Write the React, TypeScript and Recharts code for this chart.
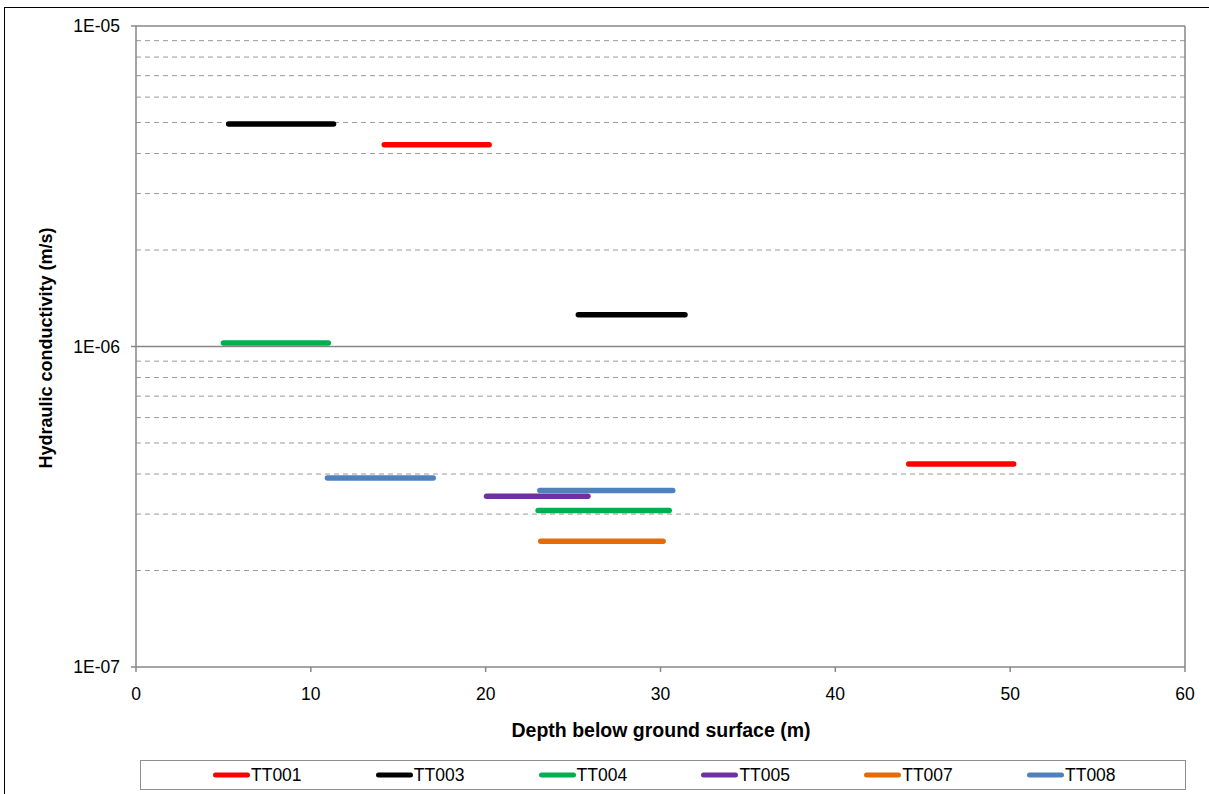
import React from 'react';
import { LineChart, Line, XAxis, YAxis, ReferenceLine } from 'recharts';

// Series names and colours
const SERIES = ['TT001', 'TT003', 'TT004', 'TT005', 'TT007', 'TT008'];
const COLORS = ['#FF0000', '#000000', '#00B050', '#7030A0', '#E36C09', '#4F81BD'];

// Test intervals: depth from / depth to (m) and hydraulic conductivity (m/s)
const TT001 = [
  { from: 14.2, to: 20.2, k: 4.26e-6 },
  { from: 44.2, to: 50.2, k: 4.3e-7 },
];
const TT003 = [
  { from: 5.3, to: 11.3, k: 4.95e-6 },
  { from: 25.3, to: 31.4, k: 1.257e-6 },
];
const TT004 = [
  { from: 5.0, to: 11.0, k: 1.026e-6 },
  { from: 23.0, to: 30.5, k: 3.08e-7 },
];
const TT005 = [{ from: 20.05, to: 25.85, k: 3.41e-7 }];
const TT007 = [{ from: 23.15, to: 30.15, k: 2.47e-7 }];
const TT008 = [
  { from: 10.95, to: 17.0, k: 3.89e-7 },
  { from: 23.1, to: 30.7, k: 3.556e-7 },
];
const SEGMENTS = [TT001, TT003, TT004, TT005, TT007, TT008];

// Axis ticks
const X_TICKS = [0, 10, 20, 30, 40, 50, 60];
const Y_TICKS = [1e-7, 1e-6, 1e-5];
const MINOR_GRID = [2e-7, 3e-7, 4e-7, 5e-7, 6e-7, 7e-7, 8e-7, 9e-7, 2e-6, 3e-6, 4e-6, 5e-6, 6e-6, 7e-6, 8e-6, 9e-6];

const FONT = 'Arial, "Liberation Sans", sans-serif';
const AXIS_GRAY = '#878787';

const fmtY = (v: number) => {
  const e = Math.round(Math.log10(v));
  const abs = Math.abs(e);
  return `1E${e < 0 ? '-' : '+'}${abs < 10 ? '0' : ''}${abs}`;
};

export default function App() {
  return (
    <div style={{ position: 'absolute', left: 0, top: 0, width: 1209, height: 794, overflow: 'hidden', background: '#fff', fontFamily: FONT }}>
      <div style={{ position: 'absolute', left: 4, top: 7, width: 1300, height: 900, border: '1.5px solid #000', boxSizing: 'border-box' }} />
      <div style={{ position: 'absolute', left: 0, top: 0 }}>
        <LineChart width={1209} height={740} margin={{ top: 26, right: 24, left: 56, bottom: 0 }}>
          <XAxis
            type="number"
            dataKey="x"
            domain={[0, 60]}
            ticks={X_TICKS}
            allowDataOverflow
            height={73}
            tickSize={5}
            tickMargin={16}
            stroke={AXIS_GRAY}
            strokeWidth={1.5}
            tick={{ fill: '#000', fontSize: 17.5, fontFamily: FONT }}
          />
          <YAxis
            type="number"
            dataKey="y"
            scale="log"
            domain={[1e-7, 1e-5]}
            ticks={Y_TICKS}
            allowDataOverflow
            width={80}
            tickSize={5}
            tickMargin={11}
            tickFormatter={fmtY}
            stroke={AXIS_GRAY}
            strokeWidth={1.5}
            tick={{ fill: '#000', fontSize: 17.5, fontFamily: FONT }}
          />
          {MINOR_GRID.map((v) => (
            <ReferenceLine key={'g' + v} y={v} stroke="#9A9A9A" strokeWidth={1} strokeDasharray="5 4" />
          ))}
          <ReferenceLine y={1e-6} stroke={AXIS_GRAY} strokeWidth={1.5} />
          <ReferenceLine y={1e-5} stroke={AXIS_GRAY} strokeWidth={1.5} />
          <ReferenceLine x={60} stroke={AXIS_GRAY} strokeWidth={1.5} />
          {SEGMENTS.map((segs, si) =>
            segs.map((s, j) => (
              <Line
                key={SERIES[si] + '-' + j}
                data={[
                  { x: s.from, y: s.k },
                  { x: s.to, y: s.k },
                ]}
                dataKey="y"
                type="linear"
                stroke={COLORS[si]}
                strokeWidth={5.5}
                strokeLinecap="round"
                dot={false}
                activeDot={false}
                legendType="none"
                isAnimationActive={false}
              />
            ))
          )}
        </LineChart>
      </div>
      <div style={{ position: 'absolute', left: 661, top: 730, transform: 'translate(-50%, -50%)', fontWeight: 'bold', fontSize: 19.5, whiteSpace: 'nowrap' }}>
        Depth below ground surface (m)
      </div>
      <div style={{ position: 'absolute', left: 46, top: 348, transform: 'translate(-50%, -50%) rotate(-90deg)', fontWeight: 'bold', fontSize: 18, whiteSpace: 'nowrap' }}>
        Hydraulic conductivity (m/s)
      </div>
      <div style={{ position: 'absolute', left: 140, top: 760, width: 1046, height: 30, border: '1.5px solid #8E8E8E', boxSizing: 'border-box' }} />
      {SERIES.map((name, i) => (
        <div key={name} style={{ position: 'absolute', left: 213 + i * 162.8, top: 775, transform: 'translateY(-50%)', display: 'flex', alignItems: 'center', fontSize: 17.5 }}>
          <div style={{ width: 37, height: 5.5, borderRadius: 3, background: COLORS[i] }} />
          <span style={{ marginLeft: 1 }}>{name}</span>
        </div>
      ))}
    </div>
  );
}
